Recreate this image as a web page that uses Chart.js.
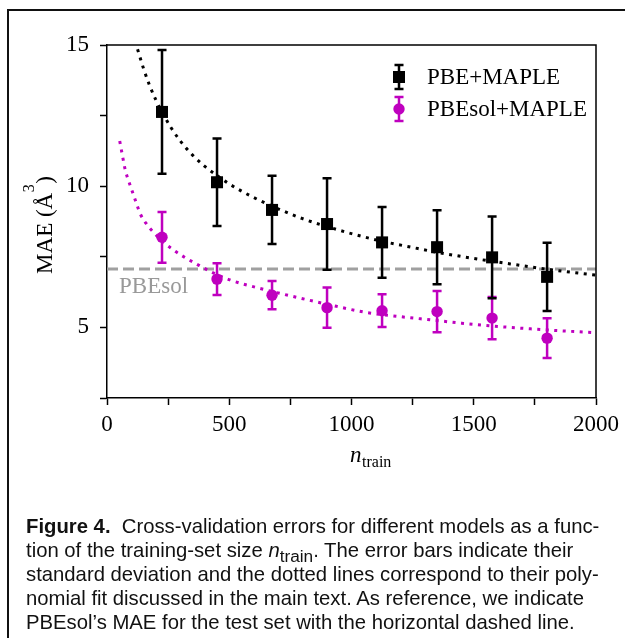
<!DOCTYPE html>
<html>
<head>
<meta charset="utf-8">
<script src="https://cdn.jsdelivr.net/npm/chart.js@4.4.1/dist/chart.umd.min.js"></script>
<style>
  html, body { margin: 0; padding: 0; background: #fff; }
  #wrap { position: relative; width: 625px; height: 638px; overflow: hidden; background: #fff; }
  #frame { position: absolute; left: 7px; top: 9px; width: 700px; height: 700px; border-left: 2px solid #111; border-top: 2px solid #111; }
  #c { position: absolute; left: 0; top: 0; }
  #cap { position: absolute; left: 26px; top: 514px; font-family: "Liberation Sans", Arial, sans-serif; font-size: 20.3px; line-height: 24px; color: #111; white-space: nowrap; }
  #cap sub { font-size: 0.85em; vertical-align: -0.28em; line-height: 0; }
</style>
</head>
<body>
<div id="wrap">
  <div id="frame"></div>
  <canvas id="c" width="625" height="638"></canvas>
  <div id="cap"><b>Figure 4.</b>&nbsp; Cross-validation errors for different models as a func-<br>tion of the training-set size <i>n</i><sub>train</sub>. The error bars indicate their<br>standard deviation and the dotted lines correspond to their poly-<br>nomial fit discussed in the main text. As reference, we indicate<br>PBEsol’s MAE for the test set with the horizontal dashed line.</div>
</div>
<script>
// ---------- data ----------
const nTrain = [225, 450, 675, 900, 1125, 1350, 1575, 1800];
const pbeMae = [12.63, 10.14, 9.16, 8.66, 8.01, 7.84, 7.48, 6.79];
const pbeStd = [2.19, 1.55, 1.21, 1.62, 1.25, 1.31, 1.45, 1.21];
const pbesolMae = [8.19, 6.71, 6.14, 5.70, 5.59, 5.56, 5.33, 4.62];
const pbesolStd = [0.90, 0.56, 0.50, 0.71, 0.58, 0.73, 0.75, 0.70];

// dotted fit curves
const pbeFitN = [125, 150, 175, 200, 227, 260, 300, 350, 400, 450, 500, 600, 700, 800, 900, 1000, 1125, 1250, 1350, 1500, 1600, 1800, 2000];
const pbeFitV = [14.85, 14.15, 13.55, 13.05, 12.6, 12.1, 11.6, 11.1, 10.7, 10.38, 10.08, 9.6, 9.2, 8.85, 8.57, 8.32, 8.05, 7.83, 7.66, 7.44, 7.31, 7.06, 6.85];
const pbesolFitN = [52, 65, 75, 90, 102, 120, 136, 160, 190, 230, 272, 320, 367, 430, 503, 612, 700, 788, 900, 1060, 1200, 1332, 1450, 1604, 1800, 2000];
const pbesolFitV = [11.6, 11.0, 10.56, 10.15, 9.85, 9.4, 9.02, 8.68, 8.37, 8.02, 7.74, 7.47, 7.24, 6.95, 6.68, 6.41, 6.22, 6.04, 5.82, 5.53, 5.38, 5.26, 5.15, 5.03, 4.91, 4.81];

const refLineN = [0, 2000];
const pbesolRefMae = 7.07;

const xTickLabels = [0, 500, 1000, 1500, 2000];
const yTickLabels = [5, 10, 15];

const seriesLabels = ['PBE+MAPLE', 'PBEsol+MAPLE'];
const refLabel = 'PBEsol';

const BLACK = '#000000';
const MAG = '#bf00bf';
const GRAY = '#a0a0a0';
const SERIF = '"Liberation Serif", "Times New Roman", serif';

const pts = (xs, ys) => xs.map((x, i) => ({ x: x, y: ys[i] }));

// ---------- plugins ----------
const errorBars = {
  id: 'errorBars',
  beforeDatasetDraw(chart, args) {
    const ds = chart.data.datasets[args.index];
    if (!ds.errStd) return;
    const ctx = chart.ctx, xs = chart.scales.x, ys = chart.scales.y;
    ctx.save();
    ctx.strokeStyle = ds.backgroundColor;
    ctx.lineWidth = 2.5;
    ctx.lineCap = 'butt';
    ds.data.forEach((p, i) => {
      const px = xs.getPixelForValue(p.x);
      const y1 = ys.getPixelForValue(p.y + ds.errStd[i]);
      const y2 = ys.getPixelForValue(p.y - ds.errStd[i]);
      ctx.beginPath();
      ctx.moveTo(px, y1); ctx.lineTo(px, y2);
      ctx.moveTo(px - 4.5, y1); ctx.lineTo(px + 4.5, y1);
      ctx.moveTo(px - 4.5, y2); ctx.lineTo(px + 4.5, y2);
      ctx.stroke();
    });
    ctx.restore();
  }
};

const decorations = {
  id: 'decorations',
  afterDraw(chart) {
    const ctx = chart.ctx, a = chart.chartArea;
    ctx.save();
    // top & right spines
    ctx.strokeStyle = '#000';
    ctx.lineWidth = 1.5;
    ctx.beginPath();
    ctx.moveTo(a.left, a.top); ctx.lineTo(a.right, a.top); ctx.lineTo(a.right, a.bottom);
    ctx.stroke();

    // reference label
    ctx.fillStyle = '#999999';
    ctx.font = '23px ' + SERIF;
    ctx.textBaseline = 'alphabetic';
    ctx.textAlign = 'left';
    ctx.fillText(refLabel, 119, 293);

    // legend
    const items = [
      { label: seriesLabels[0], color: BLACK, style: 'rect', cy: 77 },
      { label: seriesLabels[1], color: MAG, style: 'circle', cy: 109 }
    ];
    items.forEach(it => {
      const cx = 399;
      ctx.strokeStyle = it.color;
      ctx.fillStyle = it.color;
      ctx.lineWidth = 2.5;
      ctx.beginPath();
      ctx.moveTo(cx, it.cy - 12); ctx.lineTo(cx, it.cy + 12);
      ctx.moveTo(cx - 4.5, it.cy - 12); ctx.lineTo(cx + 4.5, it.cy - 12);
      ctx.moveTo(cx - 4.5, it.cy + 12); ctx.lineTo(cx + 4.5, it.cy + 12);
      ctx.stroke();
      if (it.style === 'rect') {
        ctx.fillRect(cx - 6, it.cy - 6, 12, 12);
      } else {
        ctx.beginPath(); ctx.arc(cx, it.cy, 5.7, 0, Math.PI * 2); ctx.fill();
      }
      ctx.fillStyle = '#000';
      ctx.font = '23px ' + SERIF;
      ctx.textBaseline = 'middle';
      ctx.fillText(it.label, 427, it.cy + 1);
    });

    // x-axis title: n_train
    ctx.fillStyle = '#000';
    ctx.textBaseline = 'alphabetic';
    ctx.font = 'italic 23px ' + SERIF;
    ctx.fillText('n', 350, 462);
    const nw = ctx.measureText('n').width;
    ctx.font = '16px ' + SERIF;
    ctx.fillText('train', 350 + nw + 0.5, 467);

    // y-axis title: MAE (Å^3)
    ctx.save();
    ctx.translate(52, 225);
    ctx.rotate(-Math.PI / 2);
    ctx.font = '23px ' + SERIF;
    const p1 = 'MAE (Å', p2 = '3', p3 = ')';
    const w1 = ctx.measureText(p1).width;
    ctx.font = '16px ' + SERIF;
    const w2 = ctx.measureText(p2).width;
    ctx.font = '23px ' + SERIF;
    const w3 = ctx.measureText(p3).width;
    const total = w1 + w2 + 1 + w3;
    let x0 = -total / 2;
    ctx.fillText(p1, x0, 0);
    ctx.font = '16px ' + SERIF;
    ctx.fillText(p2, x0 + w1 + 0.5, -18);
    ctx.font = '23px ' + SERIF;
    ctx.fillText(p3, x0 + w1 + w2 + 1, 0);
    ctx.restore();

    ctx.restore();
  }
};

// ---------- chart ----------
const ctxEl = document.getElementById('c');
new Chart(ctxEl, {
  type: 'scatter',
  data: {
    datasets: [
      {
        label: seriesLabels[0],
        data: pts(nTrain, pbeMae),
        errStd: pbeStd,
        backgroundColor: BLACK,
        borderColor: BLACK,
        pointStyle: 'rect',
        pointRadius: 8.5,
        pointBorderWidth: 0,
        showLine: false
      },
      {
        label: seriesLabels[1],
        data: pts(nTrain, pbesolMae),
        errStd: pbesolStd,
        backgroundColor: MAG,
        borderColor: MAG,
        pointStyle: 'circle',
        pointRadius: 5.7,
        pointBorderWidth: 0,
        showLine: false
      },
      {
        label: 'PBE fit',
        data: pts(pbeFitN, pbeFitV),
        showLine: true,
        borderColor: BLACK,
        borderWidth: 3,
        borderDash: [3, 5.5],
        pointRadius: 0,
        tension: 0.4,
        cubicInterpolationMode: 'monotone',
        fill: false
      },
      {
        label: 'PBEsol fit',
        data: pts(pbesolFitN, pbesolFitV),
        showLine: true,
        borderColor: MAG,
        borderWidth: 3,
        borderDash: [3, 5.5],
        pointRadius: 0,
        tension: 0.4,
        cubicInterpolationMode: 'monotone',
        fill: false
      },
      {
        label: refLabel,
        data: refLineN.map(x => ({ x: x, y: pbesolRefMae })),
        showLine: true,
        borderColor: GRAY,
        borderWidth: 3,
        borderDash: [11, 5],
        pointRadius: 0,
        fill: false
      }
    ]
  },
  options: {
    responsive: false,
    animation: false,
    devicePixelRatio: 1,
    layout: { padding: { left: 0, top: 45, right: 28, bottom: 0 } },
    plugins: { legend: { display: false }, tooltip: { enabled: false } },
    scales: {
      x: {
        type: 'linear',
        min: 0, max: 2000,
        afterFit(s) { s.height = 240; },
        afterBuildTicks(s) { s.ticks = []; for (let v = 0; v <= 2000; v += 250) s.ticks.push({ value: v }); },
        ticks: {
          autoSkip: false, maxRotation: 0, padding: 6,
          color: '#000', font: { family: SERIF, size: 23 },
          callback: v => xTickLabels.includes(v) ? String(v) : ''
        },
        grid: { drawOnChartArea: false, drawTicks: true, tickLength: 7, tickColor: '#000', tickWidth: 1.5 },
        border: { display: true, color: '#000', width: 1.5 }
      },
      y: {
        type: 'linear',
        min: 2.5, max: 15,
        afterFit(s) { s.width = 107; },
        afterBuildTicks(s) { s.ticks = []; for (let v = 2.5; v <= 15; v += 2.5) s.ticks.push({ value: v }); },
        ticks: {
          autoSkip: false, padding: 11,
          color: '#000', font: { family: SERIF, size: 23 },
          callback: v => yTickLabels.includes(v) ? String(v) : ''
        },
        grid: { drawOnChartArea: false, drawTicks: true, tickLength: 7, tickColor: '#000', tickWidth: 1.5 },
        border: { display: true, color: '#000', width: 1.5 }
      }
    }
  },
  plugins: [errorBars, decorations]
});
</script>
</body>
</html>
